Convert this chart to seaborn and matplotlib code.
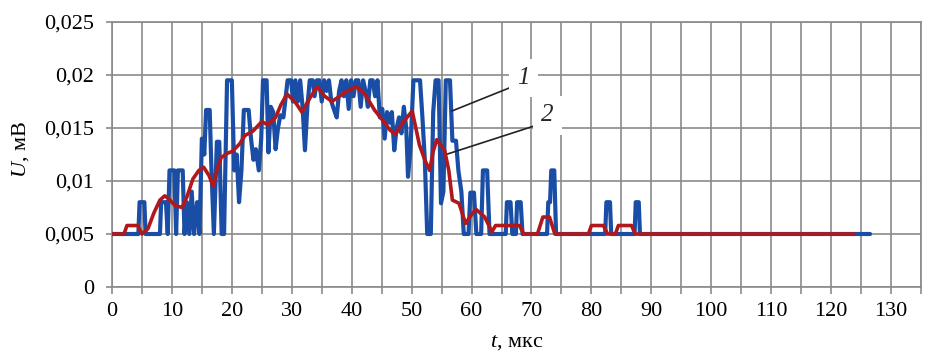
import matplotlib
matplotlib.use("Agg")
import matplotlib.pyplot as plt
import seaborn as sns
import pandas as pd
from matplotlib.ticker import FixedLocator, FixedFormatter

# ---- data ----
t1 = [0, 4.4, 4.6, 5.4, 5.6, 8.0, 8.2, 9.0, 9.3, 9.6, 10.4, 10.7, 11.0, 11.8, 12.1, 12.5, 12.9,
      13.3, 13.7, 14.2, 14.6, 15.0, 15.4, 15.7, 16.3, 16.6, 17.0, 17.5, 17.9, 18.3, 18.7, 19.2,
      20.0, 20.4, 20.8, 21.2, 21.6, 22.0, 22.8, 23.2, 23.6, 24.0, 24.5, 24.9, 25.2, 25.8, 26.1,
      26.5, 26.9, 27.3, 27.7, 28.1, 28.6, 29.0, 29.3, 29.9, 30.2, 30.6, 31.0, 31.4, 31.8, 32.2,
      32.6, 33.0, 33.5, 33.8, 34.2, 34.6, 35.0, 35.4, 35.8, 36.2, 36.6, 37.0, 37.5, 37.9, 38.3,
      38.7, 39.1, 39.5, 39.9, 40.3, 40.7, 41.1, 41.5, 41.9, 42.3, 42.7, 43.1, 43.5, 43.9, 44.3,
      44.7, 45.1, 45.5, 45.9, 46.3, 46.7, 47.1, 47.5, 47.9, 48.3, 48.7, 49.1, 49.4, 49.8, 50.3,
      51.4, 51.8, 52.2, 52.6, 53.2, 53.6, 54.0, 54.5, 54.9, 55.3, 55.7, 56.4, 56.8, 57.4, 57.8,
      58.3, 58.7, 59.5, 59.8, 60.4, 60.8, 61.6, 61.9, 62.6, 63.0, 65.7, 65.9, 66.5, 66.8, 67.4,
      67.6, 68.2, 68.5, 72.6, 72.8, 73.1, 73.3, 73.8, 74.1, 82.3, 82.5, 83.1, 83.3, 87.2, 87.4,
      87.9, 88.1, 126.5]
u1 = [0.005, 0.005, 0.008, 0.008, 0.005, 0.005, 0.008, 0.008, 0.005, 0.011, 0.011, 0.005, 0.011,
      0.011, 0.005, 0.008, 0.005, 0.009, 0.005, 0.008, 0.005, 0.014, 0.0125, 0.0167, 0.0167,
      0.011, 0.005, 0.0137, 0.0137, 0.005, 0.005, 0.0195, 0.0195, 0.011, 0.0125, 0.008, 0.011,
      0.0167, 0.0167, 0.014, 0.012, 0.013, 0.011, 0.014, 0.0195, 0.0195, 0.0127, 0.017, 0.0165,
      0.013, 0.015, 0.0162, 0.016, 0.018, 0.0195, 0.0195, 0.0175, 0.0195, 0.0175, 0.0195, 0.017,
      0.0129, 0.017, 0.0195, 0.0195, 0.018, 0.0195, 0.0195, 0.0175, 0.0195, 0.0185, 0.0195,
      0.0175, 0.0168, 0.016, 0.0185, 0.0195, 0.018, 0.0195, 0.0168, 0.0195, 0.018, 0.0195,
      0.0195, 0.017, 0.0195, 0.0185, 0.017, 0.0195, 0.0195, 0.018, 0.0195, 0.016, 0.0168, 0.014,
      0.0165, 0.0155, 0.0165, 0.0129, 0.015, 0.016, 0.0145, 0.017, 0.015, 0.0104, 0.013, 0.0195,
      0.0195, 0.016, 0.012, 0.005, 0.005, 0.0165, 0.0195, 0.0195, 0.0079, 0.009, 0.0195, 0.0195,
      0.0138, 0.0138, 0.011, 0.009, 0.005, 0.005, 0.0089, 0.0089, 0.005, 0.005, 0.011, 0.011,
      0.005, 0.005, 0.008, 0.008, 0.005, 0.005, 0.008, 0.008, 0.005, 0.005, 0.008, 0.008, 0.011,
      0.011, 0.005, 0.005, 0.008, 0.008, 0.005, 0.005, 0.008, 0.008, 0.005, 0.005]

t2 = [0, 2.0, 2.5, 4.3, 5.0, 6.0, 7.0, 8.0, 8.8, 9.5, 10.5, 11.7, 12.5, 13.5, 14.5, 15.3, 16.2,
      16.9, 17.5, 18.2, 19.2, 20.1, 21.3, 22.2, 23.5, 25.0, 26.0, 27.3, 28.2, 29.2, 30.5, 31.7,
      33.0, 34.2, 35.5, 36.7, 38.0, 39.0, 40.8, 42.2, 43.8, 45.5, 46.4, 47.3, 48.5, 50.1, 50.7,
      51.3, 52.2, 53.0, 53.6, 54.2, 55.5, 56.2, 56.8, 57.9, 59.0, 60.2, 60.8, 62.2, 63.4, 64.0,
      68.0, 68.7, 71.0, 71.9, 73.0, 73.9, 79.5, 80.0, 82.0, 82.7, 84.0, 84.5, 86.7, 87.3, 123.8]
u2 = [0.005, 0.005, 0.0058, 0.0058, 0.005, 0.0055, 0.007, 0.0082, 0.0086, 0.0083, 0.0077,
      0.0075, 0.0085, 0.0102, 0.011, 0.0113, 0.0105, 0.0095, 0.011, 0.0122, 0.0126, 0.0128,
      0.0135, 0.0143, 0.0147, 0.0156, 0.0153, 0.016, 0.0172, 0.0182, 0.0175, 0.0165, 0.0178,
      0.0189, 0.018, 0.0175, 0.018, 0.0184, 0.0189, 0.0182, 0.0167, 0.0155, 0.0148, 0.0144,
      0.0155, 0.0166, 0.015, 0.0134, 0.012, 0.011, 0.0128, 0.0139, 0.0129, 0.011, 0.0082, 0.0079,
      0.006, 0.007, 0.0073, 0.0066, 0.0052, 0.0058, 0.0058, 0.005, 0.005, 0.0066, 0.0066, 0.005,
      0.005, 0.0058, 0.0058, 0.005, 0.005, 0.0058, 0.0058, 0.005, 0.005]

x_ticks = list(range(0, 136, 5))
x_labels = [str(v) if v % 10 == 0 and v <= 130 else "" for v in x_ticks]
y_ticks = [0, 0.005, 0.01, 0.015, 0.02, 0.025]
y_labels = ["0", "0,005", "0,01", "0,015", "0,02", "0,025"]

series_labels = ["1", "2"]

# ---- style ----
sns.set_theme(style="white")
plt.rcParams["font.family"] = ["Liberation Serif", "DejaVu Serif"]
plt.rcParams["mathtext.fontset"] = "custom"
plt.rcParams["mathtext.rm"] = "Liberation Serif"
plt.rcParams["mathtext.it"] = "Liberation Serif:italic"

df1 = pd.DataFrame({"t": t1, "U": u1})
df2 = pd.DataFrame({"t": t2, "U": u2})

fig = plt.figure(figsize=(9.28, 3.52), dpi=100)
ax = fig.add_axes([112 / 928, 1 - 287 / 352, (921 - 112) / 928, (287 - 22) / 352])

sns.lineplot(data=df1, x="t", y="U", ax=ax, color="#1a4ea6", linewidth=3.0,
             estimator=None, sort=False, zorder=3)
sns.lineplot(data=df2, x="t", y="U", ax=ax, color="#b0181c", linewidth=2.6,
             estimator=None, sort=False, zorder=4)

ax.set_xlim(0, 135)
ax.set_ylim(0, 0.025)
ax.xaxis.set_major_locator(FixedLocator(x_ticks))
ax.xaxis.set_major_formatter(FixedFormatter(x_labels))
ax.yaxis.set_major_locator(FixedLocator(y_ticks))
ax.yaxis.set_major_formatter(FixedFormatter(y_labels))

grid_col = "#8a8a8a"
ax.grid(True, color=grid_col, linewidth=1.2, zorder=0)
ax.set_axisbelow(True)
for s in ax.spines.values():
    s.set_color(grid_col)
    s.set_linewidth(1.2)
ax.tick_params(axis="both", which="major", direction="out", color=grid_col, width=1.2,
               labelsize=16, labelcolor="black")
ax.tick_params(axis="x", length=5, pad=6)
ax.tick_params(axis="y", length=4, pad=9)
ax.tick_params(left=True, bottom=True)

ax.set_xlabel("$t$, мкс", fontsize=16, color="black")
ax.xaxis.set_label_coords(0.5, -0.172)
ax.set_ylabel("$U$, мВ", fontsize=16, color="black")
ax.yaxis.set_label_coords(-0.1, 0.52)

# curve labels with leader lines
ax.plot([56.7, 66.7], [0.0166, 0.01887], color="#222222", linewidth=1.2, zorder=5)
ax.plot([56.0, 70.5], [0.01255, 0.0152], color="#222222", linewidth=1.2, zorder=5)
ax.text(68.6, 0.0197, series_labels[0], fontsize=18, style="italic", ha="center", va="center",
        zorder=6, bbox=dict(facecolor="white", edgecolor="none", pad=6))
ax.text(72.6, 0.0162, series_labels[1], fontsize=18, style="italic", ha="center", va="center",
        zorder=6, bbox=dict(facecolor="white", edgecolor="none", pad=6))

fig.savefig("out.png", dpi=100)
